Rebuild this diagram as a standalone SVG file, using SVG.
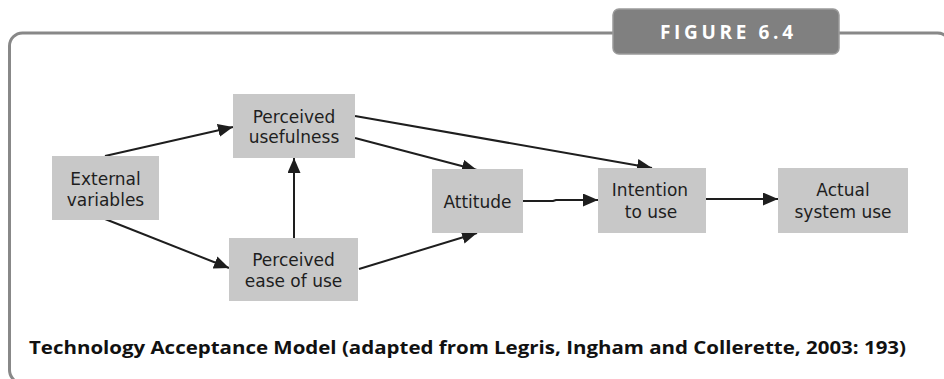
<svg xmlns="http://www.w3.org/2000/svg" width="944" height="379" viewBox="0 0 944 379">
  <style>
    .frame { fill: none; stroke: #888; stroke-width: 3; }
    .badge { fill: #808080; stroke: #9a9a9a; stroke-width: 1.5; }
    .badge-text { font-family: "Open Sans", "DejaVu Sans", sans-serif; font-weight: bold; font-size: 19px; fill: #fff; }
    .box { fill: #c8c8c8; }
    .label { font-family: "DejaVu Sans", Verdana, sans-serif; font-size: 17px; fill: #1e1e1e; text-anchor: middle; }
    .edge { fill: none; stroke: #1e1e1e; stroke-width: 2; marker-end: url(#head); }
    .caption { font-family: "Open Sans", "DejaVu Sans", sans-serif; font-weight: bold; font-size: 17.5px; fill: #111; }
  </style>
  <defs>
    <marker id="head" markerUnits="userSpaceOnUse" markerWidth="16" markerHeight="14" refX="15" refY="6.5" orient="auto">
      <path d="M0,0 L15,6.5 L0,13 z" fill="#1e1e1e"/>
    </marker>
  </defs>

  <rect width="944" height="379" fill="#fff"/>

  <!-- outer frame, running past the right and bottom edges -->
  <rect class="frame" x="9.5" y="33" width="941" height="350" rx="13" ry="13"/>

  <!-- figure tab -->
  <g id="figure-tab">
    <rect class="badge" x="613" y="9" width="226" height="45" rx="6" ry="6"/>
    <text class="badge-text" x="660" y="38.5" textLength="133" lengthAdjust="spacing">FIGURE 6.4</text>
  </g>

  <!-- connectors -->
  <g id="connectors">
    <line class="edge" x1="105" y1="156" x2="233" y2="127"/>
    <line class="edge" x1="105" y1="219" x2="229" y2="268"/>
    <line class="edge" x1="294" y1="238" x2="294" y2="158"/>
    <line class="edge" x1="355" y1="138" x2="477" y2="170"/>
    <line class="edge" x1="359" y1="269" x2="477" y2="233"/>
    <line class="edge" x1="355" y1="116" x2="652" y2="168"/>
    <polyline class="edge" points="523,201 553,201 556,200 598,200"/>
    <line class="edge" x1="706" y1="199" x2="778" y2="199"/>
  </g>

  <g id="external-variables">
    <rect class="box" x="52" y="156" width="107" height="64"/>
    <text class="label" x="105.5" y="185">External</text>
    <text class="label" x="105.5" y="206">variables</text>
  </g>

  <g id="perceived-usefulness">
    <rect class="box" x="233" y="94" width="122" height="64"/>
    <text class="label" x="294" y="123">Perceived</text>
    <text class="label" x="294" y="143">usefulness</text>
  </g>

  <g id="perceived-ease-of-use">
    <rect class="box" x="229" y="238" width="129" height="63"/>
    <text class="label" x="293.5" y="266">Perceived</text>
    <text class="label" x="293.5" y="287">ease of use</text>
  </g>

  <g id="attitude">
    <rect class="box" x="432" y="169" width="91" height="64"/>
    <text class="label" x="477.5" y="208">Attitude</text>
  </g>

  <g id="intention-to-use">
    <rect class="box" x="598" y="168" width="108" height="65"/>
    <text class="label" x="650" y="196">Intention</text>
    <text class="label" x="651" y="218">to use</text>
  </g>

  <g id="actual-system-use">
    <rect class="box" x="778" y="168" width="130" height="65"/>
    <text class="label" x="843" y="196">Actual</text>
    <text class="label" x="843" y="218">system use</text>
  </g>

  <text class="caption" x="29" y="354" textLength="877" lengthAdjust="spacingAndGlyphs">Technology Acceptance Model (adapted from Legris, Ingham and Collerette, 2003: 193)</text>
</svg>
